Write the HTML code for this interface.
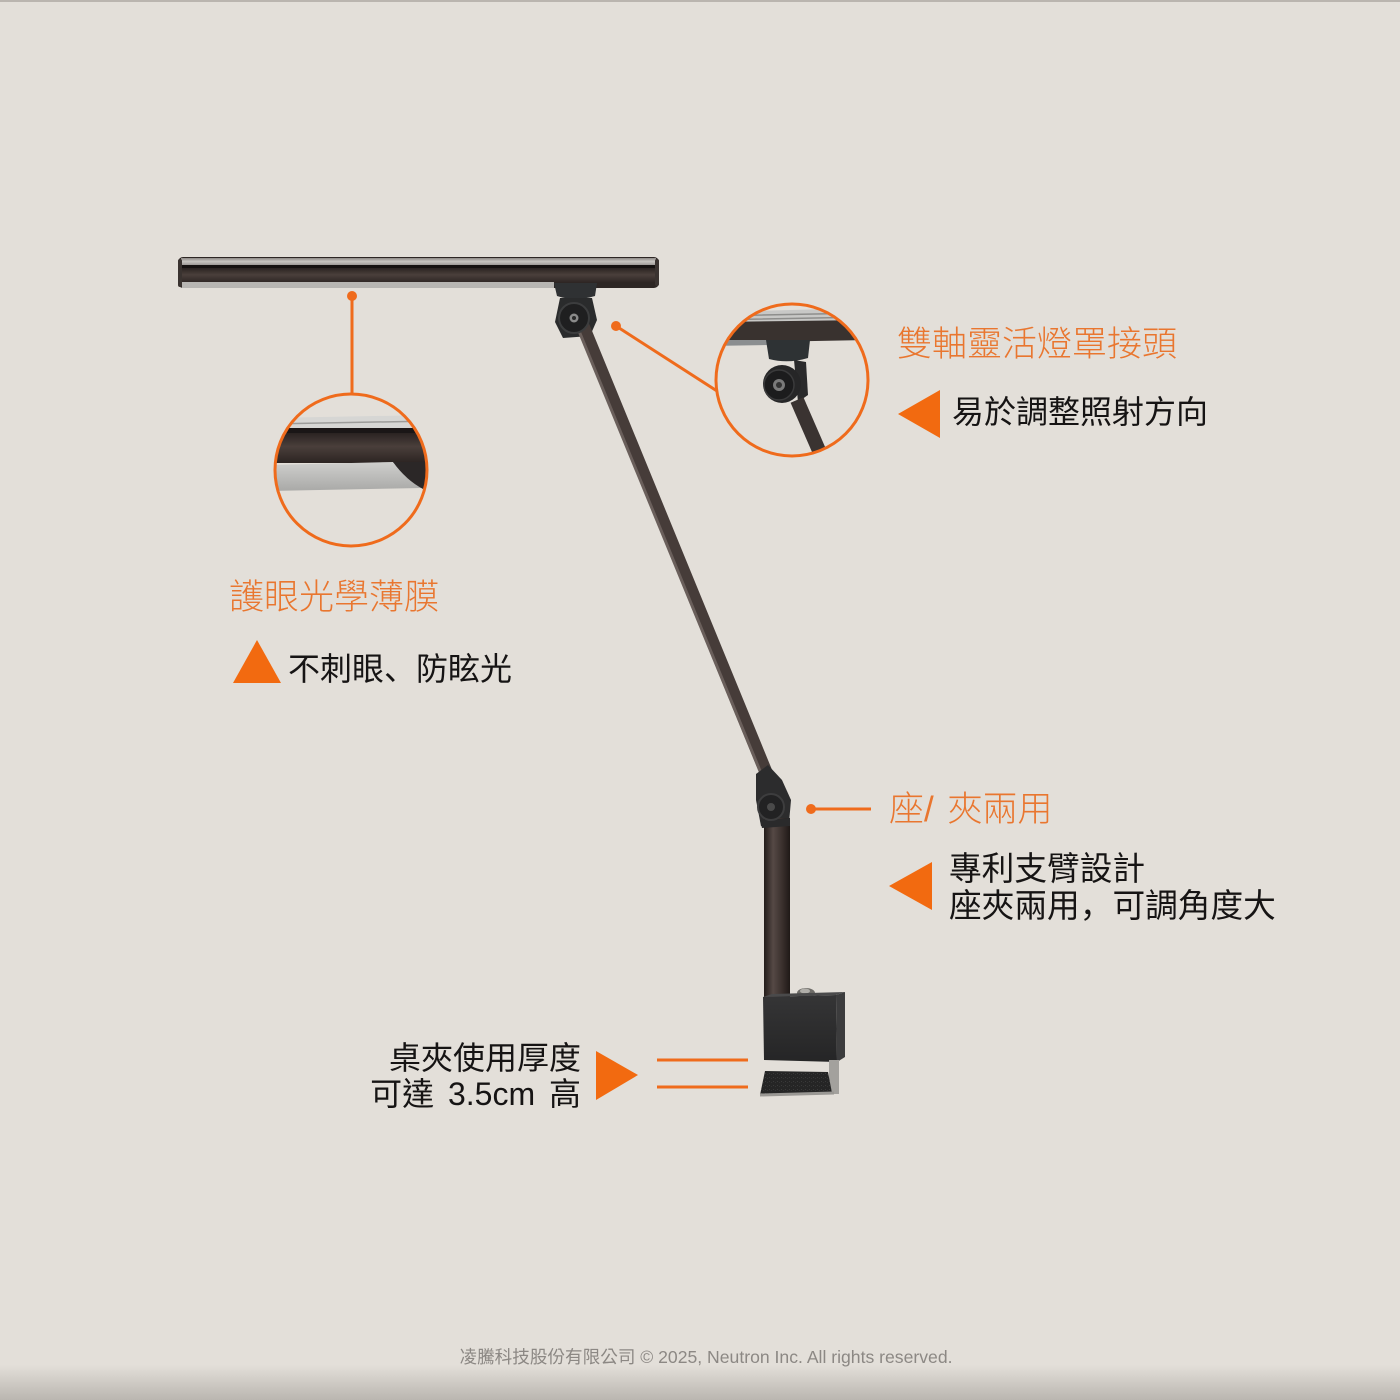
<!DOCTYPE html>
<html>
<head>
<meta charset="utf-8">
<style>
html,body{margin:0;padding:0;}
body{width:1400px;height:1400px;position:relative;overflow:hidden;background:#e3dfd9;font-family:"Liberation Sans","Noto Sans CJK TC","Noto Sans CJK SC",sans-serif;}
.t{position:absolute;white-space:nowrap;line-height:1;}
.or{color:#e9762f;font-size:35px;font-weight:300;}
.bk{color:#161414;font-size:32px;}
.sc{font-family:"Noto Sans CJK SC",sans-serif;}
.foot{position:absolute;left:0;width:1412px;top:1349px;text-align:center;font-size:17.6px;color:#8c8884;white-space:nowrap;line-height:1;}
svg{position:absolute;left:0;top:0;}
</style>
</head>
<body>
<svg width="1400" height="1400" viewBox="0 0 1400 1400" xmlns="http://www.w3.org/2000/svg">
<defs>
<linearGradient id="bot" x1="0" y1="0" x2="0" y2="1">
<stop offset="0" stop-color="#e3dfd9"/>
<stop offset="1" stop-color="#bab6b0"/>
</linearGradient>
<linearGradient id="silver" x1="0" y1="0" x2="0" y2="1">
<stop offset="0" stop-color="#8d8986"/>
<stop offset="0.5" stop-color="#c9c6c2"/>
<stop offset="1" stop-color="#9d9996"/>
</linearGradient>
<linearGradient id="body" x1="0" y1="0" x2="0" y2="1">
<stop offset="0" stop-color="#2a2321"/>
<stop offset="0.45" stop-color="#4a3f3b"/>
<stop offset="1" stop-color="#2c2422"/>
</linearGradient>
<linearGradient id="lower" x1="0" y1="0" x2="1" y2="0">
<stop offset="0" stop-color="#231c1a"/>
<stop offset="0.35" stop-color="#554945"/>
<stop offset="0.7" stop-color="#3a302d"/>
<stop offset="1" stop-color="#1f1917"/>
</linearGradient>
<linearGradient id="clampf" x1="0" y1="0" x2="0" y2="1">
<stop offset="0" stop-color="#353536"/>
<stop offset="1" stop-color="#252526"/>
</linearGradient>
<linearGradient id="gray" x1="0" y1="0" x2="0" y2="1">
<stop offset="0" stop-color="#cfcfcd"/>
<stop offset="1" stop-color="#a9a9a7"/>
</linearGradient>
<pattern id="felt" width="4" height="4" patternUnits="userSpaceOnUse">
<rect width="4" height="4" fill="#252525"/>
<rect x="1" y="1" width="1" height="1" fill="#3a3a3a"/>
<rect x="3" y="2" width="1" height="1" fill="#333"/>
</pattern>
<clipPath id="cl"><circle cx="351" cy="470" r="76"/></clipPath>
<clipPath id="cr"><circle cx="792" cy="380" r="76"/></clipPath>
</defs>

<!-- frame edges -->
<rect x="0" y="0" width="1400" height="2" fill="#bab5af"/>
<rect x="0" y="1365" width="1400" height="35" fill="url(#bot)"/>

<!-- ===== lamp head ===== -->
<rect x="178" y="257" width="481" height="31" rx="5" fill="#2d2624"/>
<rect x="181" y="258" width="475" height="7" fill="url(#silver)"/>
<rect x="181" y="265" width="475" height="3" fill="#161211"/>
<rect x="180" y="268" width="477" height="15" fill="url(#body)"/>
<rect x="182" y="282" width="372" height="6" fill="#b7b5b2"/>
<rect x="178" y="259" width="4" height="28" rx="2" fill="#3a3330"/>
<rect x="655" y="259" width="4" height="27" rx="2" fill="#3a3330"/>

<!-- head connector -->
<path d="M554 283 L597 283 L595 296 Q575 302 557 296 Z" fill="#2f3133"/>
<path d="M560 298 L592 298 L597 320 L590 336 L563 338 L555 322 Z" fill="#2a2b2c"/>

<!-- upper arm -->
<line x1="583" y1="326" x2="770" y2="782" stroke="#463c39" stroke-width="13" stroke-linecap="round"/>
<line x1="579" y1="331" x2="765" y2="783" stroke="#6a5f5b" stroke-width="3"/>

<!-- head knob -->
<circle cx="574" cy="318" r="15" fill="#1f1f20" stroke="#3c3d3e" stroke-width="2"/>
<circle cx="574" cy="318" r="4.5" fill="#8a8a8a"/>
<circle cx="574" cy="318" r="2" fill="#2a2a2a"/>

<!-- elbow joint -->
<path d="M756 774 L768 765 L782 780 L791 800 L789 823 L761 826 L756 800 Z" fill="#2c2c2d"/>
<rect x="764" y="818" width="26" height="182" fill="url(#lower)"/>
<path d="M760 820 L790 818 L790 826 L762 828 Z" fill="#2a2a2b"/>
<circle cx="771" cy="807" r="13" fill="#222223" stroke="#3d3d3e" stroke-width="2"/>
<circle cx="771" cy="807" r="4" fill="#4a4a4a"/>

<!-- clamp -->
<ellipse cx="806" cy="993" rx="9" ry="5" fill="#6e6c68"/>
<ellipse cx="805" cy="991" rx="5" ry="2.5" fill="#b0aea9"/>
<path d="M836 995 L845 992 L845 1057 L837 1062 Z" fill="#3c3c3d"/>
<path d="M763 997 L836 995 L837 1062 L764 1060 Z" fill="url(#clampf)"/>
<path d="M763 997 L836 995 L845 992 L772 994 Z" fill="#4a4a4b"/>
<rect x="829" y="1060" width="10" height="34" fill="#a3a19d"/>
<path d="M765 1071 L828 1072 L832 1093 L760 1095 Z" fill="url(#felt)"/>
<path d="M760 1095 L834 1093" stroke="#9a9894" stroke-width="3"/>

<!-- ===== left callout ===== -->
<line x1="352" y1="296" x2="352" y2="393" stroke="#ef6b1c" stroke-width="3"/>
<circle cx="352" cy="296" r="5" fill="#ef6b1c"/>
<g clip-path="url(#cl)">
<rect x="270" y="388" width="165" height="164" fill="#e3dfd9"/>
<path d="M270 418 L432 415 L432 428 L270 430 Z" fill="#d6d6d4"/>
<path d="M270 424 L432 421" stroke="#9c9c9a" stroke-width="1.5"/>
<rect x="270" y="428" width="165" height="5" fill="#1a1616"/>
<rect x="270" y="433" width="165" height="30" fill="url(#body)"/>
<path d="M270 465 L393 462 L405 476 L422 488 L270 491 Z" fill="url(#gray)"/>
<path d="M393 462 L432 462 L432 489 L423 489 Q406 480 393 462 Z" fill="#2b2727"/>
</g>
<circle cx="351" cy="470" r="76" fill="none" stroke="#ef6b1c" stroke-width="3"/>

<!-- ===== right callout ===== -->
<line x1="616" y1="326" x2="717" y2="391" stroke="#ef6b1c" stroke-width="3"/>
<circle cx="616" cy="326" r="5" fill="#ef6b1c"/>
<g clip-path="url(#cr)">
<rect x="712" y="300" width="165" height="165" fill="#e3dfd9"/>
<path d="M712 312 L870 308 L870 322 L712 324 Z" fill="#c8c8c6"/>
<path d="M712 316 L870 313 M712 320 L870 317" stroke="#8e8e8c" stroke-width="1.5"/>
<path d="M712 322 L870 320 L870 340 L712 343 Z" fill="#39322f"/>
<path d="M712 340 L770 340 L770 345 L712 346 Z" fill="#8b8e90"/>
<path d="M766 340 L810 340 L808 358 Q788 364 769 359 Z" fill="#2e3234"/>
<path d="M794 360 L806 362 L808 395 L798 402 Z" fill="#2a2a2b"/>
<line x1="797" y1="400" x2="824" y2="462" stroke="#3a3331" stroke-width="14"/>
<circle cx="782" cy="384" r="19" fill="#262627"/>
<circle cx="779" cy="385" r="15" fill="#1c1c1d" stroke="#3a3a3b" stroke-width="1.5"/>
<circle cx="779" cy="385" r="6" fill="#7a7a7a"/>
<circle cx="779" cy="385" r="3" fill="#333"/>
</g>
<circle cx="792" cy="380" r="76" fill="none" stroke="#ef6b1c" stroke-width="3"/>

<!-- elbow connector -->
<circle cx="811" cy="809" r="5" fill="#ef6b1c"/>
<line x1="811" y1="809" x2="871" y2="809" stroke="#ef6b1c" stroke-width="3"/>

<!-- triangles -->
<polygon points="898,414 940,390 940,438" fill="#f26a10"/>
<polygon points="233,683 257,640 281,683" fill="#f26a10"/>
<polygon points="889,886 932,862 932,910" fill="#f26a10"/>
<polygon points="596,1051 596,1100 638,1075" fill="#f26a10"/>

<!-- clamp lines -->
<line x1="657" y1="1060" x2="748" y2="1060" stroke="#ef6b1c" stroke-width="3"/>
<line x1="657" y1="1087" x2="748" y2="1087" stroke="#ef6b1c" stroke-width="3"/>
</svg>

<div class="t or" style="left:897px;top:327px;">雙軸靈活燈罩接頭</div>
<div class="t bk" style="left:952px;top:396px;">易於調整照射方向</div>

<div class="t or" style="left:229px;top:580px;">護眼光學薄膜</div>
<div class="t bk" style="left:288px;top:651px;">不刺眼<span class="sc">、</span>防眩光</div>

<div class="t or" style="left:889px;top:792px;word-spacing:4px;">座/ 夾兩用</div>
<div class="t bk" style="left:949px;top:851px;line-height:35px;font-size:32.7px;">專利支臂設計<br>座夾兩用<span class="sc">，</span>可調角度大</div>

<div class="t bk" style="left:280px;width:301px;top:1040px;line-height:36px;text-align:right;">桌夾使用厚度<br><span style="word-spacing:5px;">可達 3.5cm 高</span></div>

<div class="foot">凌騰科技股份有限公司 © 2025, Neutron Inc. All rights reserved.</div>
</body>
</html>
